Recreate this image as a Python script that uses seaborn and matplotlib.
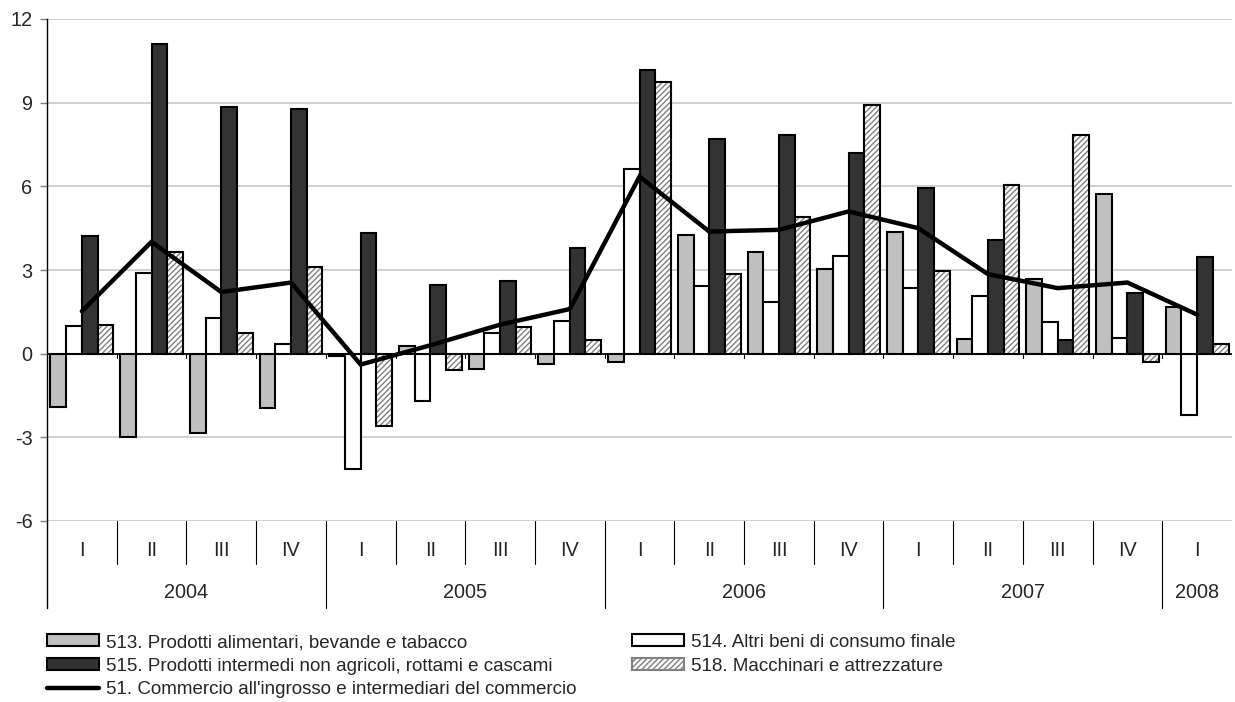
import numpy as np
import pandas as pd
import matplotlib
matplotlib.use("Agg")
import matplotlib.pyplot as plt
import matplotlib.transforms as mtransforms
from matplotlib.patches import Patch, Rectangle
from matplotlib.lines import Line2D
import seaborn as sns

# ---------------- data ----------------
quarters = ["I", "II", "III", "IV", "I", "II", "III", "IV", "I", "II", "III", "IV",
            "I", "II", "III", "IV", "I"]
years = ["2004", "2005", "2006", "2007", "2008"]
year_spans = [4, 4, 4, 4, 1]

s513 = [-1.93, -2.98, -2.84, -1.95, -0.09, 0.26, -0.54, -0.36, -0.31, 4.24, 3.64, 3.03,
        4.38, 0.53, 2.67, 5.72, 1.69]
s514 = [0.98, 2.91, 1.28, 0.35, -4.12, -1.71, 0.74, 1.18, 6.61, 2.41, 1.87, 3.49,
        2.35, 2.08, 1.12, 0.56, -2.21]
s515 = [4.23, 11.10, 8.86, 8.76, 4.32, 2.45, 2.61, 3.79, 10.17, 7.71, 7.83, 7.21,
        5.93, 4.06, 0.50, 2.17, 3.46]
s518 = [1.03, 3.66, 0.74, 3.09, -2.60, -0.57, 0.94, 0.50, 9.75, 2.87, 4.90, 8.93,
        2.98, 6.04, 7.84, -0.31, 0.36]
s51 = [1.52, 4.01, 2.21, 2.55, -0.39, 0.30, 1.04, 1.60, 6.35, 4.38, 4.44, 5.10,
       4.50, 2.85, 2.35, 2.55, 1.40]

names = ["513. Prodotti alimentari, bevande e tabacco",
         "514. Altri beni di consumo finale",
         "515. Prodotti intermedi non agricoli, rottami e cascami",
         "518. Macchinari e attrezzature"]
line_name = "51. Commercio all'ingrosso e intermediari del commercio"
bar_colors = ["#c0c0c0", "#ffffff", "#333333", "#ffffff"]

FS = 13.5      # legend
FS_AX = 14.3   # axis labels
EW = 1.5

# ---------------- figure ----------------
sns.set_theme(style="white")
plt.rcParams["font.family"] = ["Liberation Sans", "DejaVu Sans"]
plt.rcParams["hatch.linewidth"] = 1.0

fig = plt.figure(figsize=(12.35, 7.02), dpi=100)
ax = fig.add_axes([47 / 1235, 1 - 521 / 702, (1232 - 47) / 1235, (521 - 19) / 702])

n = len(quarters)
qid = [f"q{i}" for i in range(n)]
df = pd.DataFrame({
    "q": qid * 4,
    "val": s513 + s514 + s515 + s518,
    "series": sum([[nm] * n for nm in names], []),
})

sns.barplot(data=df, x="q", y="val", hue="series", hue_order=names, order=qid,
            palette=bar_colors, width=0.9, gap=0, edgecolor="black", linewidth=EW,
            legend=False, ax=ax, zorder=3)

# hatch for series 518 (gray hatch, black outline)
for bar in ax.containers[3]:
    bar.set_hatch("//////")
    bar.set_edgecolor("#808080")
    bar.set_linewidth(0)
    x0, y0 = bar.get_xy()
    ax.add_patch(Rectangle((x0, y0), bar.get_width(), bar.get_height(), fill=False,
                           edgecolor="black", linewidth=EW, zorder=3.5))

# aggregate line
ax.plot(np.arange(n), s51, color="black", linewidth=3.2, zorder=5, solid_joinstyle="miter")

ax.set_xlim(-0.5, n - 0.5)
ax.set_ylim(-6, 12)
ax.set_yticks(np.arange(-6, 13, 3))
ax.set_yticklabels([str(v) for v in range(-6, 13, 3)], fontsize=FS_AX)
ax.tick_params(axis="y", length=5, width=1, color="#808080", direction="out", pad=5.5,
               left=True)
ax.set_xticks([])
ax.set_xlabel("")
ax.set_ylabel("")
ax.yaxis.grid(True, color="#c8c8c8", linewidth=1.2, zorder=0)
ax.set_axisbelow(True)
for s in ["top", "right", "bottom"]:
    ax.spines[s].set_visible(False)
ax.spines["left"].set_color("black")
ax.spines["left"].set_linewidth(1.0)

# zero axis line with category tick marks
ax.axhline(0, color="black", linewidth=1.2, zorder=4)
trans = mtransforms.blended_transform_factory(ax.transData, ax.transAxes)
for b in np.arange(-0.5, n, 1.0):
    ax.plot([b, b], [0, -0.14], color="black", linewidth=0.8, zorder=4)

# category table below plot
q_bottom = -(564 - 521) / 502
y_bottom = -(608 - 521) / 502
ax.plot([-0.5, -0.5], [0, y_bottom], transform=trans, color="black", linewidth=1.0,
        clip_on=False)
year_bounds = np.cumsum(year_spans)
for i in range(1, n):
    yb = y_bottom if i in year_bounds else q_bottom
    ax.plot([i - 0.5, i - 0.5], [0, yb], transform=trans, color="black", linewidth=0.8,
            clip_on=False)
for i, q in enumerate(quarters):
    ax.text(i, -(550 - 521) / 502, q, transform=trans, ha="center", va="center",
            fontsize=FS_AX)
start = 0
for yr, sp in zip(years, year_spans):
    ax.text(start + sp / 2 - 0.5, -(592 - 521) / 502, yr, transform=trans, ha="center",
            va="center", fontsize=FS_AX)
    start += sp

# legend
h513 = Patch(facecolor=bar_colors[0], edgecolor="black", linewidth=EW)
h514 = Patch(facecolor=bar_colors[1], edgecolor="black", linewidth=EW)
h515 = Patch(facecolor=bar_colors[2], edgecolor="black", linewidth=EW)
h518 = Patch(facecolor="white", edgecolor="#808080", hatch="//////", linewidth=EW)
h51 = Line2D([], [], color="black", linewidth=3.2)
fig.legend([h513, h515, h51, h514, h518],
           [names[0], names[2], line_name, names[1], names[3]],
           loc="upper left", bbox_to_anchor=(47 / 1235, 1 - 634 / 702), ncol=2,
           frameon=False, fontsize=FS, handlelength=2.75, handleheight=0.6,
           handletextpad=0.37, labelspacing=0.35, columnspacing=3.0, borderpad=0,
           borderaxespad=0)

fig.savefig("out.png", dpi=100)
